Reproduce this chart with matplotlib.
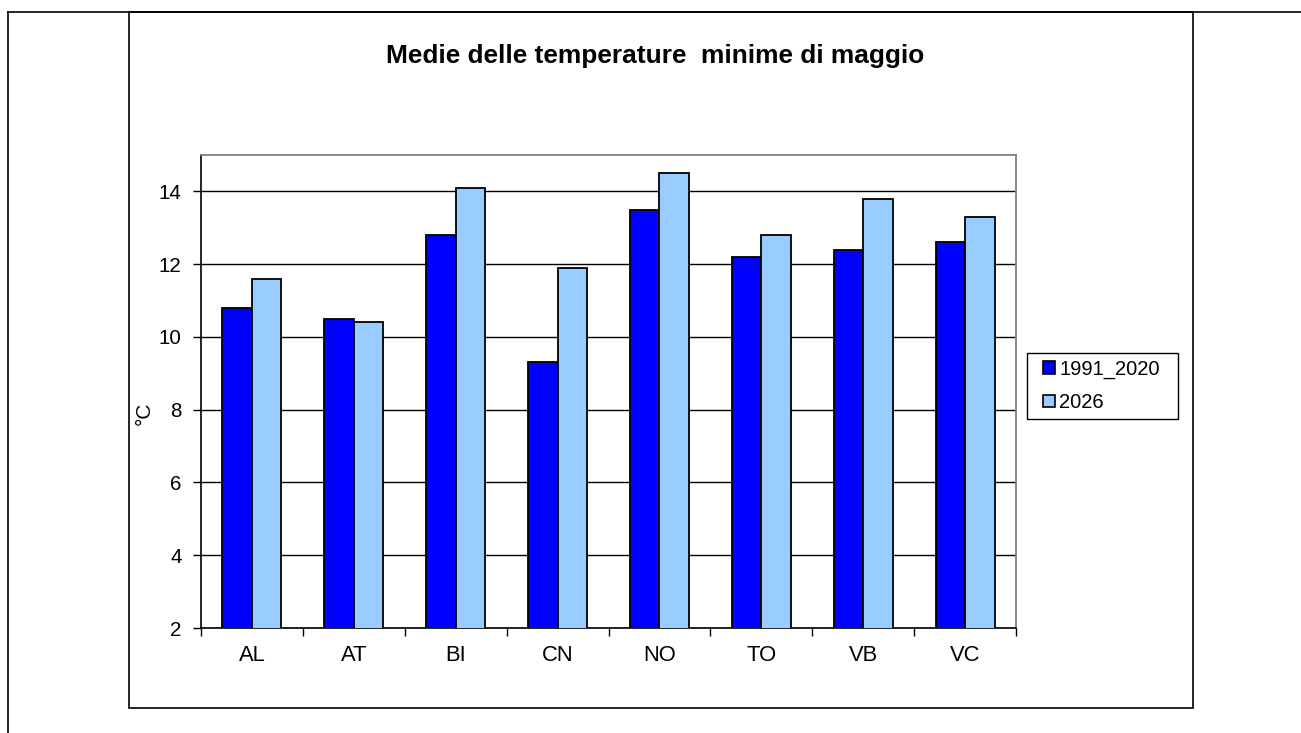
import matplotlib
matplotlib.use("Agg")
import matplotlib.pyplot as plt
from matplotlib.patches import Rectangle, Patch
from matplotlib.lines import Line2D

categories = ["AL", "AT", "BI", "CN", "NO", "TO", "VB", "VC"]
series_1991_2020 = [10.8, 10.5, 12.8, 9.3, 13.5, 12.2, 12.4, 12.6]
series_2026 = [11.6, 10.4, 14.1, 11.9, 14.5, 12.8, 13.8, 13.3]
series_names = ["1991_2020", "2026"]
y_ticks = [2, 4, 6, 8, 10, 12, 14]
title = "Medie delle temperature  minime di maggio"
y_label = "°C"

plt.rcParams['font.family'] = ['Liberation Sans', 'DejaVu Sans']

W, H = 1301, 733
fig = plt.figure(figsize=(W / 100, H / 100), dpi=100)

def fx(x):
    return x / W

def fy(y):
    return 1 - y / H

# outer borders
fig.add_artist(Line2D([fx(8), fx(1301)], [fy(12), fy(12)], color='black', lw=1.2))
fig.add_artist(Line2D([fx(8), fx(8)], [fy(12), fy(733)], color='black', lw=1.2))
# chart area box
fig.add_artist(Rectangle((fx(129), fy(708)), fx(1193) - fx(129), fy(12) - fy(708),
                         fill=False, edgecolor='black', lw=1.2))

ax = fig.add_axes([fx(201), fy(628), fx(1016) - fx(201), fy(155) - fy(628)])

w = 0.29
x = list(range(len(categories)))
ax.bar([i - w / 2 for i in x], series_1991_2020, width=w,
       color='#0000FF', edgecolor='black', linewidth=1.3, zorder=3)
ax.bar([i + w / 2 for i in x], series_2026, width=w,
       color='#99CCFF', edgecolor='black', linewidth=1.3, zorder=3)

ax.set_ylim(2, 15)
ax.set_xlim(-0.5, len(categories) - 0.5)
ax.set_yticks(y_ticks)
ax.set_yticklabels([str(t) for t in y_ticks], fontsize=14.8)
ax.yaxis.grid(True, color='black', linewidth=1.0, zorder=0)
ax.set_axisbelow(True)

ax.set_xticks([i + 0.5 for i in range(-1, len(categories))])
ax.set_xticklabels([])
ax.set_xticks(x, minor=True)
ax.set_xticklabels(categories, minor=True, fontsize=15.8)
ax.tick_params(axis='x', which='minor', length=0, pad=12)
ax.tick_params(axis='x', which='major', length=6, width=1, direction='out')
ax.tick_params(axis='y', length=6, width=1, direction='out', pad=8)

for s in ['top', 'right']:
    ax.spines[s].set_color('#808080')
    ax.spines[s].set_linewidth(1.3)
for s in ['left', 'bottom']:
    ax.spines[s].set_color('black')
    ax.spines[s].set_linewidth(1.2)

fig.text(fx(144), fy(413), y_label, rotation=90, ha='center', va='center', fontsize=15)
fig.text(fx(655), fy(56), title, ha='center', va='center', fontsize=18.9, fontweight='bold')

# legend frame drawn manually
fig.add_artist(Rectangle((fx(1027), fy(419)), fx(1178) - fx(1027), fy(353) - fy(419),
                         fill=False, edgecolor='black', lw=1.0))
handles = [Patch(facecolor='#0000FF', edgecolor='black', linewidth=1.2),
           Patch(facecolor='#99CCFF', edgecolor='black', linewidth=1.2)]
leg = fig.legend(handles, series_names, loc='center left',
                 bbox_to_anchor=(fx(1043), fy(386)), fontsize=14.5,
                 handlelength=0.6, handleheight=0.6, handletextpad=0.2,
                 labelspacing=0.7, borderpad=0, borderaxespad=0,
                 frameon=False)

fig.savefig("out.png", dpi=100)
